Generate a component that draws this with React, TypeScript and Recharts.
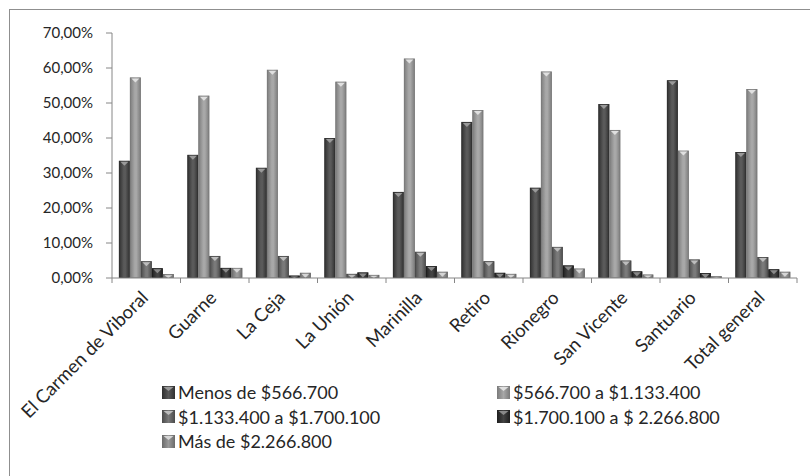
import React from 'react';
import { BarChart, Bar, XAxis, YAxis } from 'recharts';

const categories = ['El Carmen de Viboral', 'Guarne', 'La Ceja', 'La Unión', 'Marinilla', 'Retiro', 'Rionegro', 'San Vicente', 'Santuario', 'Total general'];
const menos566 = [33.5, 35.2, 31.5, 40.0, 24.6, 44.6, 25.8, 49.7, 56.5, 36.0];
const de566a1133 = [57.3, 52.1, 59.5, 56.1, 62.7, 48.0, 59.0, 42.3, 36.4, 54.0];
const de1133a1700 = [4.8, 6.3, 6.3, 1.2, 7.5, 4.8, 8.9, 5.0, 5.3, 6.0];
const de1700a2266 = [2.8, 2.9, 0.7, 1.6, 3.4, 1.5, 3.6, 1.9, 1.4, 2.5];
const mas2266 = [1.1, 2.9, 1.5, 0.9, 1.8, 1.2, 2.7, 1.0, 0.5, 1.8];
const yTicks = [0, 10, 20, 30, 40, 50, 60, 70];

const seriesNames = ['Menos de $566.700', '$566.700 a $1.133.400', '$1.133.400 a $1.700.100', '$1.700.100 a $ 2.266.800', 'Más de $2.266.800'];
const seriesKeys = ['s0', 's1', 's2', 's3', 's4'];
const seriesValues = [menos566, de566a1133, de1133a1700, de1700a2266, mas2266];
// [edge, center, top-highlight]
const seriesColors = [
  ['#2f2f2f', '#5a5a5a', '#9a9a9a'],
  ['#7a7a7a', '#a8a8a8', '#e0e0e0'],
  ['#4a4a4a', '#7a7a7a', '#bdbdbd'],
  ['#1e1e1e', '#444444', '#8a8a8a'],
  ['#6a6a6a', '#9a9a9a', '#d6d6d6'],
];

const data = categories.map((c, i) => {
  const row: any = { name: c };
  seriesKeys.forEach((k, j) => { row[k] = seriesValues[j][i]; });
  return row;
});

const FONT = 'Lato, "Open Sans", sans-serif';
const W = 810;
const H = 476;
const M = { top: 33, right: 13, left: 12, bottom: 0 };
const Y_W = 100;
const X_H = 198;
const plotW = W - M.left - M.right - Y_W;
const catW = plotW / categories.length;
const axisY = H - M.bottom - X_H;

const makeShape = (idx: number) => (props: any) => {
  const { x, y, width, height } = props;
  if (height == null || height <= 0) return null;
  const tri = Math.min(5, height);
  return (
    <g>
      <rect x={x} y={y} width={width} height={height} fill={`url(#grad${idx})`} />
      <rect x={x + 0.5} y={y + 0.5} width={Math.max(0, width - 1)} height={Math.max(0, height - 1)} fill="none" stroke={seriesColors[idx][0]} strokeWidth={0.6} />
      <polygon points={`${x + 1.5},${y + 1} ${x + width - 1.5},${y + 1} ${x + width / 2},${y + tri}`} fill={seriesColors[idx][2]} />
    </g>
  );
};

const XTick = (props: any) => {
  const { x, payload, index } = props;
  const left = x - catW / 2;
  return (
    <g>
      <line x1={left} y1={axisY} x2={left} y2={axisY + 5} stroke="#868686" />
      {index === categories.length - 1 && (
        <line x1={x + catW / 2} y1={axisY} x2={x + catW / 2} y2={axisY + 5} stroke="#868686" />
      )}
      <text
        transform={`translate(${x + 3},${axisY + 21}) rotate(-45)`}
        textAnchor="end"
        fontSize={18.5}
        fontFamily={FONT}
        fill="#262626"
      >
        {payload.value}
      </text>
    </g>
  );
};

const fmt = (v: number) => `${v.toFixed(2).replace('.', ',')}%`;

const LegendItem = ({ idx }: { idx: number }) => (
  <div style={{ display: 'flex', alignItems: 'center', height: 24.5 }}>
    <svg width={13} height={13} style={{ marginRight: 3 }}>
      <defs>
        <linearGradient id={`lg${idx}`} x1="0" y1="0" x2="1" y2="0">
          <stop offset="0" stopColor={seriesColors[idx][0]} />
          <stop offset="0.5" stopColor={seriesColors[idx][1]} />
          <stop offset="1" stopColor={seriesColors[idx][0]} />
        </linearGradient>
      </defs>
      <rect x={0} y={0} width={13} height={13} fill={`url(#lg${idx})`} />
      <polygon points="1.5,1 11.5,1 6.5,5" fill={seriesColors[idx][2]} />
    </svg>
    <span>{seriesNames[idx]}</span>
  </div>
);

export default function App() {
  return (
    <div style={{ position: 'absolute', left: 0, top: 0, width: W, height: H, overflow: 'hidden', background: '#fff' }}>
      <div style={{ position: 'absolute', left: 9, top: 9, width: 900, height: 600, borderLeft: '1px solid #8f8f8f', borderTop: '1px solid #8f8f8f' }} />
      <BarChart width={W} height={H} data={data} margin={M} barCategoryGap="10%" barGap={0}>
        <defs>
          {seriesColors.map((c, i) => (
            <linearGradient key={i} id={`grad${i}`} x1="0" y1="0" x2="1" y2="0">
              <stop offset="0" stopColor={c[0]} />
              <stop offset="0.45" stopColor={c[1]} />
              <stop offset="0.6" stopColor={c[1]} />
              <stop offset="1" stopColor={c[0]} />
            </linearGradient>
          ))}
        </defs>
        <XAxis
          dataKey="name"
          height={X_H}
          interval={0}
          tickLine={false}
          axisLine={{ stroke: '#868686' }}
          tick={<XTick />}
        />
        <YAxis
          width={Y_W}
          domain={[0, 70]}
          ticks={yTicks}
          tickFormatter={fmt}
          axisLine={{ stroke: '#868686' }}
          tickLine={{ stroke: '#868686' }}
          tickSize={6}
          tickMargin={13}
          tick={{ fontSize: 15, fontFamily: FONT, fill: '#262626' }}
        />
        {seriesKeys.map((k, i) => (
          <Bar key={k} dataKey={k} name={seriesNames[i]} isAnimationActive={false} shape={makeShape(i)} />
        ))}
      </BarChart>
      <div style={{ position: 'absolute', left: 162, top: 380, fontFamily: FONT, fontSize: 18, color: '#262626', display: 'grid', gridTemplateColumns: '335px 300px' }}>
        <LegendItem idx={0} />
        <LegendItem idx={1} />
        <LegendItem idx={2} />
        <LegendItem idx={3} />
        <LegendItem idx={4} />
      </div>
    </div>
  );
}
